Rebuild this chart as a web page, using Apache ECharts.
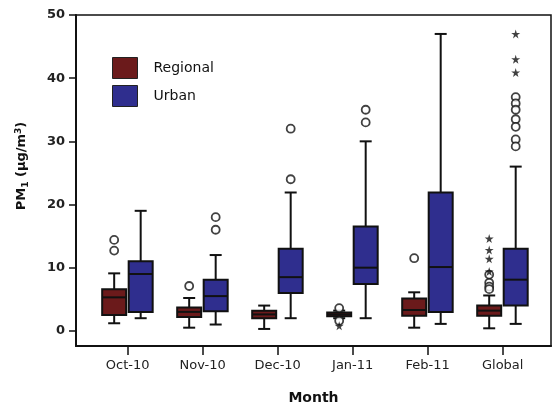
<!DOCTYPE html>
<html>
<head>
<meta charset="utf-8">
<script src="https://cdn.jsdelivr.net/npm/echarts@6/dist/echarts.min.js"></script>
<style>html,body{margin:0;padding:0;background:#fff}#c{width:553px;height:405px}</style>
</head>
<body>
<div id="c"></div>
<script>
// ---- data ----
const categories = ['Oct-10', 'Nov-10', 'Dec-10', 'Jan-11', 'Feb-11', 'Global'];
const yTicks = [0, 10, 20, 30, 40, 50];
// [lower whisker, Q1, median, Q3, upper whisker]
const regionalBox = [
  [1.2, 2.5, 5.3, 6.6, 9.1],
  [0.5, 2.2, 3.0, 3.7, 5.2],
  [0.3, 2.0, 2.6, 3.2, 4.0],
  [2.0, 2.3, 2.6, 2.9, 3.2],
  [0.5, 2.4, 3.3, 5.1, 6.1],
  [0.4, 2.4, 3.2, 4.0, 5.6]
];
const urbanBox = [
  [2.0, 3.0, 9.0, 11.0, 19.0],
  [1.0, 3.1, 5.5, 8.1, 12.0],
  [2.0, 6.0, 8.5, 13.0, 21.9],
  [2.0, 7.4, 10.0, 16.5, 30.0],
  [1.1, 3.0, 10.1, 21.9, 47.0],
  [1.1, 4.0, 8.1, 13.0, 26.0]
];
// outliers: [category index, value]
const regionalCircles = [[0, 14.4], [0, 12.7], [1, 7.1], [3, 3.6], [3, 1.6], [4, 11.5], [5, 8.9], [5, 7.6], [5, 7.0], [5, 6.6]];
const regionalStars = [[3, 0.8], [5, 14.6], [5, 12.8], [5, 11.4], [5, 9.4]];
const urbanCircles = [[1, 18.0], [1, 16.0], [2, 32.0], [2, 24.0], [3, 35.0], [3, 33.0],
  [5, 37.0], [5, 36.0], [5, 35.0], [5, 33.5], [5, 32.3], [5, 30.3], [5, 29.2]];
const urbanStars = [[5, 47.0], [5, 43.0], [5, 40.9]];

// ---- styles ----
const REG_COLOR = '#6b1a1b';
const URB_COLOR = '#2f2e8e';
const INK = '#111';
const STAR = 'path://M50,0 L61,35 L98,35 L68,57 L79,91 L50,70 L21,91 L32,57 L2,35 L39,35 Z';

function makeRender(dx, color) {
  return function (params, api) {
    const x = api.value(0);
    const lo = api.coord([x, api.value(1)]);
    const q1 = api.coord([x, api.value(2)]);
    const md = api.coord([x, api.value(3)]);
    const q3 = api.coord([x, api.value(4)]);
    const hi = api.coord([x, api.value(5)]);
    const cx = lo[0] + dx;
    const hw = 12, cw = 6;
    const ls = { stroke: INK, lineWidth: 2 };
    return {
      type: 'group',
      children: [
        { type: 'line', shape: { x1: cx, y1: hi[1], x2: cx, y2: lo[1] }, style: ls },
        { type: 'line', shape: { x1: cx - cw, y1: hi[1], x2: cx + cw, y2: hi[1] }, style: ls },
        { type: 'line', shape: { x1: cx - cw, y1: lo[1], x2: cx + cw, y2: lo[1] }, style: ls },
        { type: 'rect', shape: { x: cx - hw, y: q3[1], width: 2 * hw, height: q1[1] - q3[1] },
          style: { fill: color, stroke: INK, lineWidth: 2 } },
        { type: 'line', shape: { x1: cx - hw, y1: md[1], x2: cx + hw, y2: md[1] }, style: ls }
      ]
    };
  };
}

const catIdx = categories.map((c, i) => i);
const DX_REG = -13.5, DX_URB = 13;

const chart = echarts.init(document.getElementById('c'), null, { renderer: 'canvas' });
chart.setOption({
  animation: false,
  backgroundColor: '#fff',
  textStyle: { fontFamily: 'DejaVu Sans' },
  grid: { left: 76, right: 2, top: 15, bottom: 59, show: true, borderColor: INK, borderWidth: 1.5,
          containLabel: false, outerBoundsMode: 'none' },
  legend: {
    data: ['Regional', 'Urban'],
    orient: 'vertical', left: 107, top: 52,
    itemWidth: 25, itemHeight: 21, itemGap: 6, icon: 'rect',
    itemStyle: { borderColor: '#222', borderWidth: 1 },
    textStyle: { fontSize: 14, color: INK, padding: [0, 0, 0, 11], fontFamily: 'DejaVu Sans' }
  },
  xAxis: {
    type: 'value', min: -0.689, max: 5.644,
    splitLine: { show: false },
    axisLine: { show: true, onZero: false, lineStyle: { color: INK, width: 2 } },
    axisTick: { show: true, customValues: catIdx, length: 9, lineStyle: { color: INK, width: 1.5 } },
    axisLabel: { customValues: catIdx, formatter: v => categories[Math.round(v)], fontSize: 13, color: '#222', margin: 13, fontFamily: 'DejaVu Sans' },
    name: 'Month', nameLocation: 'middle', nameGap: 45,
    nameTextStyle: { fontSize: 14, fontWeight: 'bold', color: INK, fontFamily: 'DejaVu Sans' }
  },
  yAxis: {
    type: 'value', min: -2.4, max: 50,
    splitLine: { show: false },
    axisLine: { show: true, onZero: false, lineStyle: { color: INK, width: 2 } },
    axisTick: { show: true, customValues: yTicks, length: 7, lineStyle: { color: INK, width: 1.5 } },
    axisLabel: { customValues: yTicks, fontSize: 13, fontWeight: 'bold', color: '#222', margin: 11, fontFamily: 'DejaVu Sans' },
    name: 'PM{sub|1} (µg/m{sup|3})', nameLocation: 'middle', nameRotate: 90, nameGap: 46,
    nameTextStyle: {
      fontSize: 13, fontWeight: 'bold', color: INK, fontFamily: 'DejaVu Sans', padding: [0, 0, 0, 29],
      rich: {
        sub: { fontSize: 9, fontWeight: 'bold', color: INK, padding: [7, 0, 0, 0] },
        sup: { fontSize: 9, fontWeight: 'bold', color: INK, padding: [0, 0, 7, 0] }
      }
    }
  },
  series: [
    {
      name: 'Regional', type: 'custom', renderItem: makeRender(DX_REG, REG_COLOR),
      itemStyle: { color: REG_COLOR },
      encode: { x: 0, y: [1, 2, 3, 4, 5] },
      data: regionalBox.map((b, i) => [i].concat(b)), z: 2
    },
    {
      name: 'Urban', type: 'custom', renderItem: makeRender(DX_URB, URB_COLOR),
      itemStyle: { color: URB_COLOR },
      encode: { x: 0, y: [1, 2, 3, 4, 5] },
      data: urbanBox.map((b, i) => [i].concat(b)), z: 2
    },
    {
      name: 'Regional outliers', type: 'scatter', data: regionalCircles, symbol: 'circle', symbolSize: 8,
      symbolOffset: [DX_REG, 0], itemStyle: { color: '#fff', borderColor: INK, borderWidth: 1.8 }, z: 3
    },
    {
      name: 'Regional extremes', type: 'scatter', data: regionalStars, symbol: STAR, symbolSize: 9,
      symbolOffset: [DX_REG, 0], itemStyle: { color: INK }, z: 3
    },
    {
      name: 'Urban outliers', type: 'scatter', data: urbanCircles, symbol: 'circle', symbolSize: 8,
      symbolOffset: [DX_URB, 0], itemStyle: { color: '#fff', borderColor: INK, borderWidth: 1.8 }, z: 3
    },
    {
      name: 'Urban extremes', type: 'scatter', data: urbanStars, symbol: STAR, symbolSize: 9,
      symbolOffset: [DX_URB, 0], itemStyle: { color: INK }, z: 3
    }
  ]
});
</script>
</body>
</html>
